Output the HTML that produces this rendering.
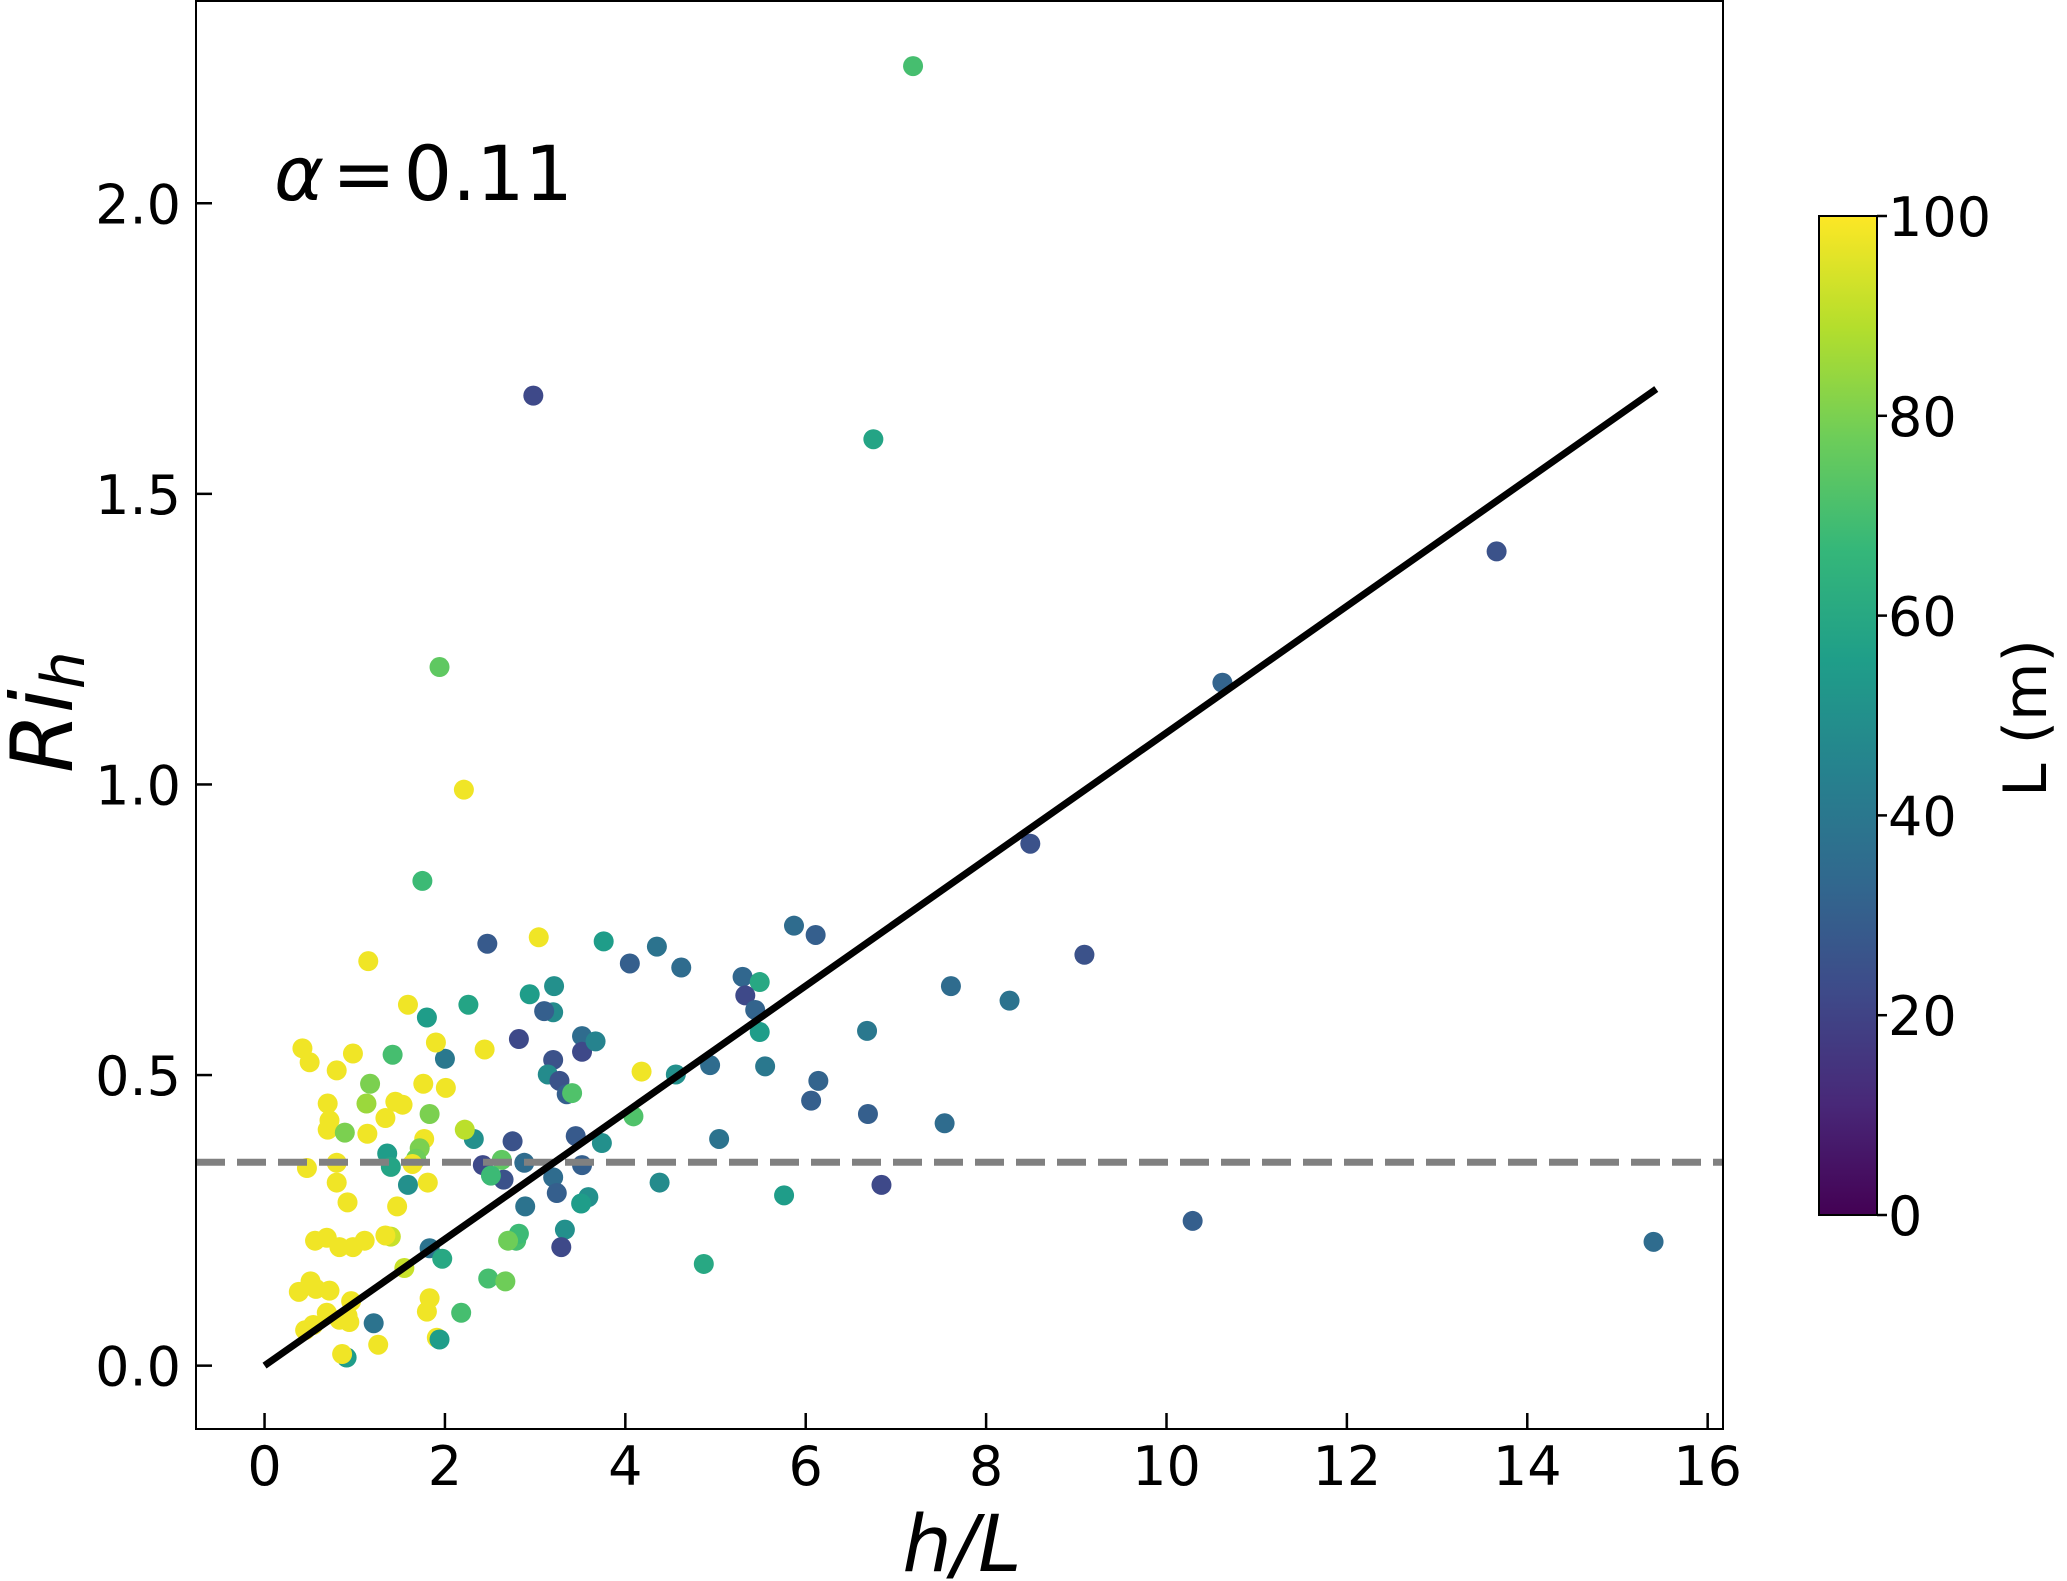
<!DOCTYPE html>
<html><head><meta charset="utf-8"><style>
html,body{margin:0;padding:0;background:#fff;}
svg{display:block;font-family:"DejaVu Sans","Liberation Sans",sans-serif;}
</style></head><body>
<svg id="chart" width="2067" height="1581" viewBox="0 0 2067 1581"></svg>
<script>
const hL = [7.19,2.98,6.75,13.66,10.62,1.94,2.21,8.49,1.75,9.09,1.15,3.04,2.47,3.76,4.05,4.35,4.62,5.87,6.11,5.30,5.49,5.33,5.44,7.61,8.26,6.68,5.49,5.55,4.94,4.56,4.18,6.14,6.06,6.69,7.54,6.84,10.29,15.40,5.04,4.38,4.87,5.76,4.09,3.74,3.45,3.52,3.52,3.52,3.67,3.20,3.10,3.21,2.94,2.26,1.80,3.20,2.82,3.14,3.27,3.35,3.41,2.75,2.32,2.42,2.88,2.65,3.20,3.24,3.59,3.51,2.89,3.33,3.29,2.79,2.82,2.00,1.90,2.44,1.42,1.59,1.17,1.76,2.01,1.83,1.13,1.45,1.53,1.34,1.14,1.77,1.72,1.68,1.64,1.36,1.40,2.22,2.63,2.51,1.59,1.81,1.47,1.40,1.34,1.83,1.97,1.55,2.48,2.67,2.18,1.83,1.80,1.91,1.94,1.21,1.26,0.91,0.86,0.42,0.50,0.98,0.80,0.70,0.72,0.70,0.89,0.47,0.80,0.80,0.92,0.56,0.69,0.83,0.98,1.11,0.51,0.38,0.57,0.72,0.96,0.92,0.69,0.54,0.45,0.83,0.94,2.70];
const Rih = [2.236,1.669,1.594,1.401,1.175,1.202,0.991,0.898,0.834,0.707,0.696,0.737,0.726,0.730,0.692,0.721,0.685,0.757,0.741,0.669,0.660,0.637,0.612,0.653,0.628,0.576,0.574,0.515,0.517,0.501,0.506,0.490,0.456,0.433,0.417,0.311,0.249,0.213,0.390,0.315,0.175,0.293,0.429,0.383,0.395,0.345,0.567,0.540,0.558,0.608,0.610,0.653,0.639,0.621,0.599,0.526,0.562,0.501,0.490,0.467,0.469,0.386,0.390,0.345,0.349,0.320,0.324,0.297,0.290,0.279,0.274,0.234,0.204,0.215,0.227,0.528,0.556,0.544,0.535,0.621,0.485,0.485,0.478,0.433,0.451,0.454,0.449,0.426,0.399,0.390,0.374,0.356,0.347,0.365,0.342,0.406,0.354,0.327,0.311,0.315,0.274,0.222,0.224,0.202,0.184,0.168,0.150,0.145,0.091,0.116,0.093,0.048,0.045,0.073,0.036,0.014,0.020,0.546,0.522,0.537,0.508,0.451,0.422,0.406,0.401,0.340,0.349,0.315,0.281,0.215,0.220,0.204,0.204,0.215,0.145,0.127,0.132,0.129,0.111,0.086,0.091,0.070,0.061,0.079,0.075,0.215];
const Lm = [70,22,58,25,32,75,98,25,68,25,98,98,28,55,30,38,35,35,30,33,60,22,32,35,38,40,55,40,35,50,98,32,30,30,35,22,30,35,38,48,60,55,72,50,28,30,35,22,45,48,30,50,55,58,55,25,22,48,25,30,72,25,50,22,35,25,35,30,50,55,38,50,22,70,68,40,98,98,70,98,80,98,98,80,85,98,98,98,98,98,80,78,98,55,58,90,75,68,50,98,98,92,98,38,60,92,70,78,70,98,98,98,55,38,98,55,98,98,98,98,98,98,98,98,80,98,98,98,98,98,98,98,98,98,98,98,98,98,98,98,98,98,98,98,98,78];
const xTicks = [0,2,4,6,8,10,12,14,16];
const yTicks = [0.0,0.5,1.0,1.5,2.0];
const yTickLabels = ["0.0","0.5","1.0","1.5","2.0"];
const cTicks = [0,20,40,60,80,100];
const fitSlope = [0.1089];
const fitRange = [0, 15.43];
const threshold = [0.35];

const NS="http://www.w3.org/2000/svg";
const svg=document.getElementById('chart');
const AX={l:196,r:1723,t:1,b:1429};
const xMin=-0.76,xMax=16.17,yMin=-0.109,yMax=2.348;
function sx(v){return AX.l+(v-xMin)/(xMax-xMin)*(AX.r-AX.l);}
function sy(v){return AX.b-(v-yMin)/(yMax-yMin)*(AX.b-AX.t);}
const CB={l:1819,r:1877,t:216,b:1215};
function cy(v){return CB.b-(v/100)*(CB.b-CB.t);}
const vir=[[68,1,84],[72,40,120],[62,74,137],[49,104,142],[38,130,142],[31,158,137],[53,183,121],[109,205,89],[180,222,44],[253,231,37]];
function viridis(t){t=Math.max(0,Math.min(1,t));const p=t*(vir.length-1);const i=Math.min(Math.floor(p),vir.length-2);const f=p-i;const a=vir[i],b=vir[i+1];return `rgb(${Math.round(a[0]+(b[0]-a[0])*f)},${Math.round(a[1]+(b[1]-a[1])*f)},${Math.round(a[2]+(b[2]-a[2])*f)})`;}
function mk(tag,attrs,parent){const e=document.createElementNS(NS,tag);for(const k in attrs)e.setAttribute(k,attrs[k]);(parent||svg).appendChild(e);return e;}

const pg=mk('g',{});


for(let i=0;i<hL.length;i++){
  const c=mk('circle',{cx:sx(hL[i]),cy:sy(Rih[i]),r:10,fill:viridis(Lm[i]/100)},pg);
  
  
}
const dl=mk('line',{x1:AX.l,x2:AX.r,y1:sy(threshold[0]),y2:sy(threshold[0]),stroke:'#808080','stroke-width':7,'stroke-dasharray':'29 12'});


const fl=mk('line',{x1:sx(fitRange[0]),y1:sy(fitRange[0]*fitSlope[0]),x2:sx(fitRange[1]),y2:sy(fitRange[1]*fitSlope[0]),stroke:'#000','stroke-width':7});


const fr=mk('rect',{x:AX.l,y:AX.t,width:AX.r-AX.l,height:AX.b-AX.t,fill:'none',stroke:'#000','stroke-width':2});


xTicks.forEach(v=>{
  const x=sx(v);
  const t=mk('line',{x1:x,x2:x,y1:AX.b,y2:AX.b-16,stroke:'#000','stroke-width':2.5});
  
  
  const l=mk('text',{x:x,y:1485,'font-size':54,'text-anchor':'middle'});
  l.textContent=String(v);
  
  
});
yTicks.forEach((v,i)=>{
  const y=sy(v);
  const t=mk('line',{x1:AX.l,x2:AX.l+16,y1:y,y2:y,stroke:'#000','stroke-width':2.5});
  
  
  const l=mk('text',{x:181,y:y+20,'font-size':54,'text-anchor':'end'});
  l.textContent=yTickLabels[i];
  
  
});
const defs=mk('defs',{});
const gr=mk('linearGradient',{id:'vg',x1:0,y1:1,x2:0,y2:0},defs);
vir.forEach((c,i)=>mk('stop',{offset:i/(vir.length-1),'stop-color':`rgb(${c[0]},${c[1]},${c[2]})`},gr));
const cb=mk('rect',{x:CB.l,y:CB.t,width:CB.r-CB.l,height:CB.b-CB.t,fill:'url(#vg)',stroke:'#000','stroke-width':2});


cTicks.forEach(v=>{
  const y=cy(v);
  const t=mk('line',{x1:CB.r,x2:CB.r+10,y1:y,y2:y,stroke:'#000','stroke-width':2.5});
  
  
  const l=mk('text',{x:1888,y:y+20,'font-size':54});
  l.textContent=String(v);
  
  
});
</script>
<div style="position:absolute;left:0;top:0;width:2067px;height:1581px;pointer-events:none">
<svg width="2067" height="1581" style="font-family:'DejaVu Sans','Liberation Sans',sans-serif">
<text x="962" y="1571" font-size="78" font-style="italic" text-anchor="middle">h/L</text>
<text transform="translate(72,712) rotate(-90)" font-size="86" font-style="italic" text-anchor="middle">Ri<tspan font-size="60" dy="12">h</tspan></text>
<text transform="translate(2046,718) rotate(-90)" font-size="60" text-anchor="middle">L (m)</text>
<text x="274" y="200" font-size="76"><tspan font-style="italic">α</tspan><tspan dx="8">=</tspan><tspan dx="8">0.11</tspan></text>
</svg></div>
</body></html>
